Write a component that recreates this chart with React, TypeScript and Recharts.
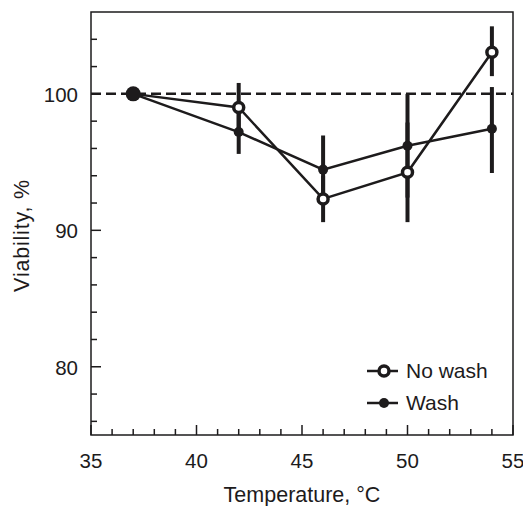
import React from "react";
import {
  LineChart,
  Line,
  XAxis,
  YAxis,
  ErrorBar,
  ReferenceLine,
  ReferenceArea,
  Legend,
} from "recharts";

const temps = [37, 42, 46, 50, 54];
const noWash = [100, 99.0, 92.3, 94.25, 103.05];
const noWashLow = [0, 1.8, 1.7, 3.65, 1.75];
const noWashHigh = [0, 1.8, 1.7, 3.65, 1.9];
const wash = [100, 97.2, 94.45, 96.2, 97.45];
const washLow = [0, 1.6, 2.5, 3.8, 3.25];
const washHigh = [0, 1.6, 2.5, 3.8, 3.05];

const xTicks = [35, 36, 37, 38, 39, 40, 41, 42, 43, 44, 45, 46, 47, 48, 49, 50, 51, 52, 53, 54, 55];
const xMajor = [35, 40, 45, 50, 55];
const yTicks = [76, 78, 80, 82, 84, 86, 88, 90, 92, 94, 96, 98, 100, 102, 104];
const yMajor = [80, 90, 100];

const data = temps.map((t, i) => ({
  temp: t,
  noWash: noWash[i],
  noWashErr: [noWashLow[i], noWashHigh[i]],
  wash: wash[i],
  washErr: [washLow[i], washHigh[i]],
}));

const W = 515;
const H = 498;
const margin = { top: 4, right: 10, left: 0, bottom: 0 };
const Y_W = 83;
const X_H = 71;
const PLOT_LEFT = margin.left + Y_W;
const PLOT_BOTTOM = H - margin.bottom - X_H;

const INK = "#1d1b1c";
const FONT = "'Liberation Sans', Arial, Helvetica, sans-serif";

function XTick(props: any) {
  const { x, payload } = props;
  const major = xMajor.includes(payload.value);
  return (
    <g>
      <line x1={x} x2={x} y1={PLOT_BOTTOM} y2={PLOT_BOTTOM - (major ? 10 : 6)} stroke={INK} strokeWidth={1.5} />
      {major && (
        <text x={x} y={PLOT_BOTTOM + 33} textAnchor="middle" fontSize={20.5} fontFamily={FONT} fill={INK}>
          {payload.value}
        </text>
      )}
    </g>
  );
}

function YTick(props: any) {
  const { y, payload } = props;
  const major = yMajor.includes(payload.value);
  return (
    <g>
      <line x1={PLOT_LEFT} x2={PLOT_LEFT + (major ? 10 : 6)} y1={y} y2={y} stroke={INK} strokeWidth={1.5} />
      {major && (
        <text x={PLOT_LEFT - 13} y={y + 8} textAnchor="end" fontSize={20.5} fontFamily={FONT} fill={INK}>
          {payload.value}
        </text>
      )}
    </g>
  );
}

function WashDot(props: any) {
  const { cx, cy, index } = props;
  return <circle key={"w" + index} cx={cx} cy={cy} r={index === 0 ? 7.5 : 5} fill={INK} stroke="none" />;
}

function LegendContent() {
  const rows = [
    { label: "No wash", open: true },
    { label: "Wash", open: false },
  ];
  return (
    <div style={{ fontFamily: FONT, fontSize: 21, color: INK }}>
      {rows.map((r) => (
        <div key={r.label} style={{ display: "flex", alignItems: "center", height: 32 }}>
          <svg width={31} height={16} style={{ marginRight: 8 }}>
            <line x1={0} x2={31} y1={8} y2={8} stroke={INK} strokeWidth={2.5} />
            {r.open ? (
              <circle cx={17} cy={8} r={5} fill="#fff" stroke={INK} strokeWidth={3.5} />
            ) : (
              <circle cx={17} cy={8} r={5} fill={INK} />
            )}
          </svg>
          <span>{r.label}</span>
        </div>
      ))}
    </div>
  );
}

export default function App() {
  return (
    <div style={{ position: "absolute", left: 8, top: 8, width: W, height: H }}>
      <LineChart width={W} height={H} data={data} margin={margin}>
        <XAxis
          dataKey="temp"
          type="number"
          domain={[35, 55]}
          ticks={xTicks}
          interval={0}
          height={X_H}
          axisLine={false}
          tickLine={false}
          tick={<XTick />}
          label={{
            value: "Temperature, °C",
            position: "insideBottom",
            offset: 4,
            fontSize: 21.5,
            fontFamily: FONT,
            fill: INK,
          }}
        />
        <YAxis
          type="number"
          domain={[75, 106]}
          ticks={yTicks}
          interval={0}
          width={Y_W}
          axisLine={false}
          tickLine={false}
          tick={<YTick />}
          label={{
            content: (p: any) => {
              const vb = p.viewBox;
              const cx = vb.x + 14;
              const cy = vb.y + vb.height / 2 + 12;
              return (
                <text
                  x={cx}
                  y={cy}
                  transform={`rotate(-90 ${cx} ${cy})`}
                  textAnchor="middle"
                  dy={7}
                  fontSize={21.5}
                  letterSpacing={0.8}
                  fontFamily={FONT}
                  fill={INK}
                >
                  Viability, %
                </text>
              );
            },
          }}
        />
        <ReferenceArea x1={35} x2={55} y1={75} y2={106} fill="none" stroke={INK} strokeWidth={1.5} />
        <ReferenceLine y={100} stroke={INK} strokeWidth={2.5} strokeDasharray="10 5" />
        <Line
          dataKey="noWash"
          stroke={INK}
          strokeWidth={2.5}
          dot={{ r: 5, fill: "#fff", stroke: INK, strokeWidth: 3.5 }}
          isAnimationActive={false}
        >
          <ErrorBar dataKey="noWashErr" direction="y" width={0} stroke={INK} strokeWidth={4} />
        </Line>
        <Line dataKey="wash" stroke={INK} strokeWidth={2.5} dot={<WashDot />} isAnimationActive={false}>
          <ErrorBar dataKey="washErr" direction="y" width={0} stroke={INK} strokeWidth={4} />
        </Line>
        <Legend
          layout="vertical"
          align="center"
          verticalAlign="middle"
          content={<LegendContent />}
          wrapperStyle={{ left: 359, top: 347, width: 150 }}
        />
      </LineChart>
    </div>
  );
}
